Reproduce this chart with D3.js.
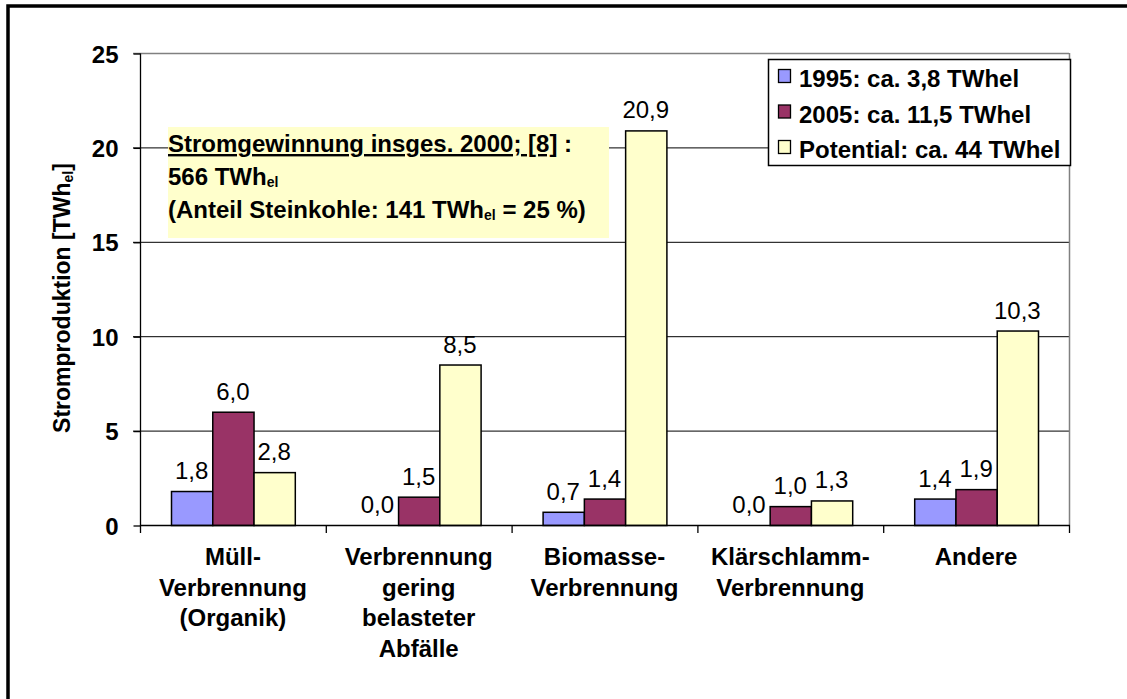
<!DOCTYPE html>
<html>
<head>
<meta charset="utf-8">
<script src="https://cdn.jsdelivr.net/npm/d3@7"></script>
<style>
  body { margin: 0; background: #fff; }
  text { font-family: "Liberation Sans", Arial, sans-serif; }
</style>
</head>
<body>
<svg id="chart"></svg>
<script>
'use strict';

var categories = [
    ["Müll-", "Verbrennung", "(Organik)"],
    ["Verbrennung", "gering", "belasteter", "Abfälle"],
    ["Biomasse-", "Verbrennung"],
    ["Klärschlamm-", "Verbrennung"],
    ["Andere"]
];
var seriesNames = ["1995: ca. 3,8 TWhel", "2005: ca. 11,5 TWhel", "Potential: ca. 44 TWhel"];
var values1995 = [1.8, 0.0, 0.7, 0.0, 1.4];
var values2005 = [6.0, 1.5, 1.4, 1.0, 1.9];
var valuesPotential = [2.8, 8.5, 20.9, 1.3, 10.3];
var yTicks = [0, 5, 10, 15, 20, 25];
var colors = ["#9999ff", "#993366", "#ffffcc"];

var width = 1127,
    height = 699,
    plotLeft = 140, plotRight = 1069, plotTop = 53, plotBottom = 525,
    fontSize = "24px";

var svg = d3.select("#chart")
    .attr("width", width)
    .attr("height", height);

// outer frame (clipped on right and bottom like the original)
svg.append("rect")
    .attr("x", 8).attr("y", 6)
    .attr("width", 1140).attr("height", 720)
    .attr("fill", "none")
    .attr("stroke", "#000")
    .attr("stroke-width", 3.5);

var x0 = d3.scaleBand()
    .domain(d3.range(categories.length))
    .range([plotLeft, plotRight]);

var x1 = d3.scaleBand()
    .domain([0, 1, 2])
    .range([31, x0.bandwidth() - 31]);

var y = d3.scaleLinear()
    .domain([0, 25])
    .range([plotBottom, plotTop]);

// gridlines
svg.append("g").selectAll("line")
    .data(yTicks.filter(function(d) { return d > 0; }))
    .enter().append("line")
        .attr("x1", plotLeft - 7).attr("x2", plotRight)
        .attr("y1", function(d) { return y(d) + 0.5; })
        .attr("y2", function(d) { return y(d) + 0.5; })
        .attr("stroke", function(d) { return d === 25 ? "#808080" : "#000"; })
        .attr("stroke-width", function(d) { return d === 25 ? 1.5 : 1; });

// right border of plot area
svg.append("line")
    .attr("x1", plotRight + 0.5).attr("x2", plotRight + 0.5)
    .attr("y1", y(25)).attr("y2", plotBottom)
    .attr("stroke", "#808080")
    .attr("stroke-width", 1.5);

// y axis
var yAxis = svg.append("g")
    .attr("transform", "translate(" + (plotLeft + 0.5) + ",0.5)")
    .call(d3.axisLeft(y).tickValues(yTicks).tickSize(7).tickPadding(15));
yAxis.selectAll("line, path").attr("stroke", "#000").attr("stroke-width", 1.3);
yAxis.select("path").attr("d", "M0," + y(25) + "V" + plotBottom);
yAxis.selectAll("text")
    .attr("font-size", fontSize)
    .attr("font-weight", "bold")
    .attr("fill", "#000")
    .attr("dy", "0.36em");

// data rows
var rows = categories.map(function(c, i) {
    return [values1995[i], values2005[i], valuesPotential[i]].map(function(v, j) {
        return {v: v, j: j};
    });
});

var groups = svg.append("g").selectAll("g")
    .data(rows)
    .enter().append("g")
        .attr("transform", function(d, i) { return "translate(" + x0(i) + ",0)"; });

groups.selectAll("rect")
    .data(function(d) { return d.filter(function(e) { return e.v > 0; }); })
    .enter().append("rect")
        .attr("x", function(d) { return x1(d.j) + 0.5; })
        .attr("y", function(d) { return y(d.v) + 0.5; })
        .attr("width", x1.bandwidth())
        .attr("height", function(d) { return plotBottom - y(d.v); })
        .attr("fill", function(d) { return colors[d.j]; })
        .attr("stroke", "#000")
        .attr("stroke-width", 1.5);

groups.selectAll("text")
    .data(function(d) { return d; })
    .enter().append("text")
        .attr("x", function(d) { return x1(d.j) + x1.bandwidth() / 2; })
        .attr("y", function(d) { return y(d.v) - 12; })
        .attr("text-anchor", "middle")
        .attr("font-size", fontSize)
        .attr("fill", "#000")
        .text(function(d) { return d.v.toFixed(1).replace(".", ","); });

// x axis
var xAxisG = svg.append("g");
xAxisG.append("line")
    .attr("x1", plotLeft).attr("x2", plotRight + 1)
    .attr("y1", plotBottom + 0.5).attr("y2", plotBottom + 0.5)
    .attr("stroke", "#000").attr("stroke-width", 1.5);
xAxisG.selectAll("line.tick")
    .data(d3.range(categories.length + 1))
    .enter().append("line")
        .attr("class", "tick")
        .attr("x1", function(i) { return plotLeft + i * x0.bandwidth() + 0.5; })
        .attr("x2", function(i) { return plotLeft + i * x0.bandwidth() + 0.5; })
        .attr("y1", plotBottom).attr("y2", plotBottom + 8)
        .attr("stroke", "#000").attr("stroke-width", 1.3);

var catLabels = xAxisG.selectAll("text")
    .data(categories)
    .enter().append("text")
        .attr("text-anchor", "middle")
        .attr("font-size", fontSize)
        .attr("font-weight", "bold")
        .attr("fill", "#000");
catLabels.selectAll("tspan")
    .data(function(d, i) { return d.map(function(line) { return {line: line, i: i}; }); })
    .enter().append("tspan")
        .attr("x", function(d) { return x0(d.i) + x0.bandwidth() / 2; })
        .attr("y", function(d, k) { return 565 + k * 30.5; })
        .text(function(d) { return d.line; });

// y axis title
var yTitle = svg.append("text")
    .attr("transform", "translate(70,298) rotate(-90)")
    .attr("text-anchor", "middle")
    .attr("font-size", "23px")
    .attr("font-weight", "bold")
    .attr("fill", "#000");
yTitle.append("tspan").text("Stromproduktion [TWh");
yTitle.append("tspan").attr("font-size", "14px").attr("dy", "3").text("el");
yTitle.append("tspan").attr("dy", "-3").text("]");

// annotation box
svg.append("rect")
    .attr("x", 168).attr("y", 127)
    .attr("width", 441).attr("height", 111)
    .attr("fill", "#ffffcc");

var note = svg.append("g")
    .attr("font-size", fontSize)
    .attr("font-weight", "bold")
    .attr("fill", "#000");
var l1 = note.append("text").attr("x", 168).attr("y", 152);
l1.append("tspan").attr("text-decoration", "underline").text("Stromgewinnung insges. 2000; [8]");
l1.append("tspan").text(" :");
var l2 = note.append("text").attr("x", 168).attr("y", 185);
l2.append("tspan").text("566 TWh");
l2.append("tspan").attr("font-size", "14px").attr("dy", "2").text("el");
var l3 = note.append("text").attr("x", 168).attr("y", 218);
l3.append("tspan").text("(Anteil Steinkohle: 141 TWh");
l3.append("tspan").attr("font-size", "14px").attr("dy", "2").text("el");
l3.append("tspan").attr("dy", "-2").text(" = 25 %)");

// legend
var legend = svg.append("g");
legend.append("rect")
    .attr("x", 768.5).attr("y", 59.5)
    .attr("width", 302).attr("height", 106)
    .attr("fill", "#fff")
    .attr("stroke", "#000")
    .attr("stroke-width", 1.5);

var items = legend.selectAll("g.item")
    .data(seriesNames)
    .enter().append("g")
        .attr("class", "item")
        .attr("transform", function(d, i) { return "translate(0," + (i * 35.5) + ")"; });
items.append("rect")
    .attr("x", 778.5).attr("y", 69.5)
    .attr("width", 12).attr("height", 13)
    .attr("fill", function(d, i) { return colors[i]; })
    .attr("stroke", "#000")
    .attr("stroke-width", 1.3);
items.append("text")
    .attr("x", 799).attr("y", 87)
    .attr("font-size", fontSize)
    .attr("font-weight", "bold")
    .attr("fill", "#000")
    .text(function(d) { return d; });
</script>
</body>
</html>
